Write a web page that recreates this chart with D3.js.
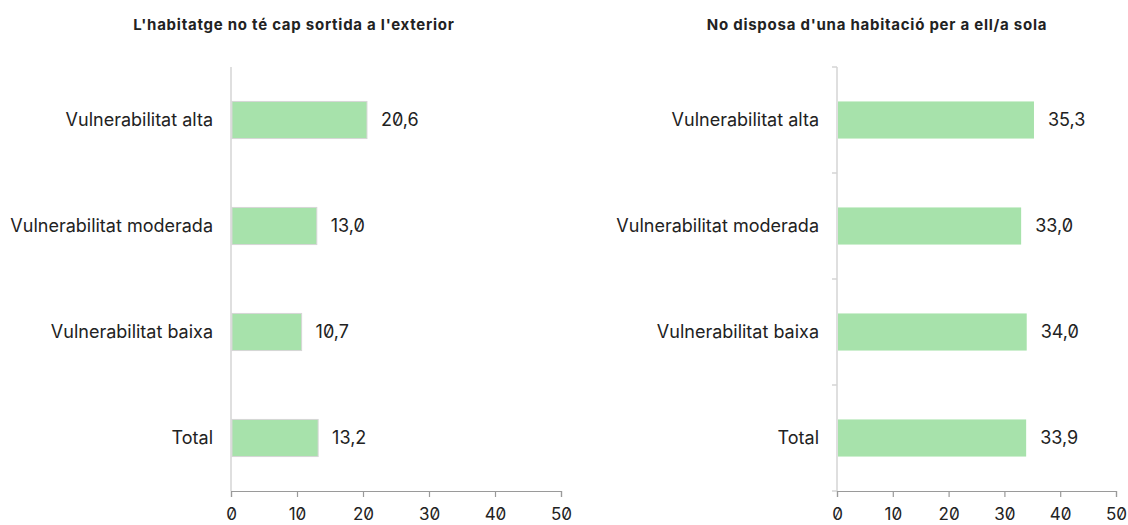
<!DOCTYPE html>
<html>
<head>
<meta charset="utf-8">
<script src="https://cdn.jsdelivr.net/npm/d3@7"></script>
<style>
  body { margin: 0; background: #fff; }
  svg text { font-family: Inter, "Noto Sans", sans-serif; fill: #222; font-feature-settings: "zero" 1; }
</style>
</head>
<body>
<div id="chart"></div>
<script>
const categories = ['Vulnerabilitat alta', 'Vulnerabilitat moderada', 'Vulnerabilitat baixa', 'Total']
const sortidaValues = [20.6, 13.0, 10.7, 13.2]
const habitacioValues = [35.3, 33.0, 34.0, 33.9]
const titles = ["L'habitatge no té cap sortida a l'exterior", "No disposa d'una habitació per a ell/a sola"]
const xTicks = [0, 10, 20, 30, 40, 50]

let width = 1128
let height = 525
let fmt = d => d.toFixed(1).replace('.', ',')

let svg = d3.select('#chart').append('svg')
  .attr('width', width)
  .attr('height', height)

// each panel: left/right edge of the plot area, whether the y axis has ticks, whether bars get a border
let panels = [
  {values: sortidaValues, title: titles[0], x0: 231, x1: 561, titleX: 294, yTicks: false, border: true},
  {values: habitacioValues, title: titles[1], x0: 837, x1: 1116, titleX: 877, yTicks: true, border: false}
]

let plotTop = 67, plotBottom = 491

panels.forEach(function(p) {
  let x = d3.scaleLinear().domain([0, 50]).range([p.x0, p.x1])
  let y = d3.scaleBand().domain(categories).range([plotTop, plotBottom]).paddingInner(0.65).paddingOuter(0.325)
  let g = svg.append('g')

  g.append('text')
    .attr('x', p.titleX).attr('y', 30)
    .attr('text-anchor', 'middle')
    .style('font-size', '15px').style('font-weight', 700).style('letter-spacing', '0.75px')
    .text(p.title)

  // y axis line
  g.append('line')
    .attr('x1', p.x0).attr('x2', p.x0)
    .attr('y1', plotTop).attr('y2', plotBottom)
    .attr('stroke', '#d4d4d4').attr('stroke-width', 1.5)

  if (p.yTicks) {
    let step = y.step()
    d3.range(categories.length + 1).forEach(function(i) {
      g.append('line')
        .attr('x1', p.x0 - 5).attr('x2', p.x0)
        .attr('y1', plotTop + i * step).attr('y2', plotTop + i * step)
        .attr('stroke', '#d4d4d4').attr('stroke-width', 1.5)
    })
  }

  g.selectAll('rect').data(p.values).join('rect')
    .attr('x', p.x0 + 1)
    .attr('y', (d, i) => y(categories[i]))
    .attr('width', d => x(d) - p.x0 - 1)
    .attr('height', y.bandwidth())
    .attr('fill', '#a7e2ab')
    .attr('stroke', p.border ? '#d6d6d6' : 'none')
    .attr('stroke-width', 1)

  g.selectAll('.val').data(p.values).join('text')
    .attr('class', 'val')
    .attr('x', d => x(d) + 14)
    .attr('y', (d, i) => y(categories[i]) + y.bandwidth() / 2)
    .attr('dy', '0.35em')
    .style('font-size', '18px')
    .text(fmt)

  g.selectAll('.cat').data(categories).join('text')
    .attr('class', 'cat')
    .attr('x', p.x0 - 18)
    .attr('y', d => y(d) + y.bandwidth() / 2)
    .attr('dy', '0.35em')
    .attr('text-anchor', 'end')
    .style('font-size', '18px')
    .text(d => d)

  let xAxis = g.append('g')
    .attr('transform', `translate(0,${plotBottom})`)
    .call(d3.axisBottom(x).tickValues(xTicks).tickSize(6).tickPadding(11).tickFormat(d3.format('d')))
  xAxis.select('.domain').attr('stroke', '#9a9a9a').attr('stroke-width', 1.2)
  xAxis.selectAll('.tick line').attr('stroke', '#9a9a9a').attr('stroke-width', 1.2)
  xAxis.selectAll('.tick text').style('font-size', '17px').style('font-family', 'Inter, sans-serif').attr('fill', '#222')
})
</script>
</body>
</html>
